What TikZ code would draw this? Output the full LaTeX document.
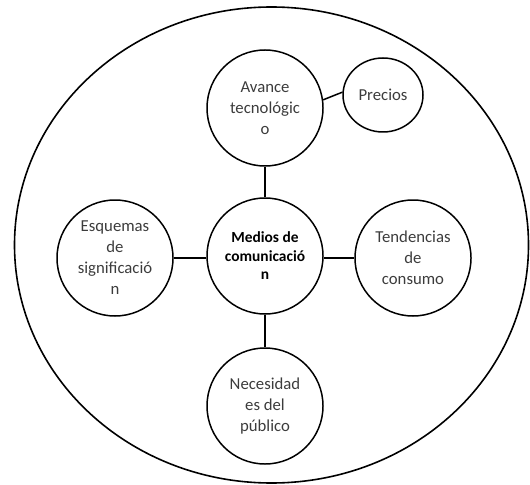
\documentclass[tikz,border=0pt]{standalone}
\usepackage{fontspec}
\setmainfont{Carlito}
\usetikzlibrary{shapes.geometric}
\definecolor{labelgray}{HTML}{3C3C3C}
\tikzset{
  topic/.style={draw=black, line width=1.5pt, circle, minimum size=116bp, inner sep=0pt,
    align=center, text=labelgray, font=\fontsize{16.8}{21}\selectfont},
  core/.style={topic, text=black, font=\bfseries\fontsize{15.5}{18.5}\selectfont},
  minor/.style={draw=black, line width=1.5pt, ellipse, minimum width=80bp, minimum height=74bp,
    inner sep=0pt, align=center, text=labelgray, font=\fontsize{16.8}{21}\selectfont},
  link/.style={draw=black, line width=1.5pt}
}
\begin{document}
\begin{tikzpicture}[x=1bp, y=-1bp]
  \useasboundingbox (0,0) rectangle (530,485);
  % outer boundary
  \draw[line width=1.6pt] (271.5,245) ellipse [x radius=257, y radius=238];
  % nodes
  \node[core]  (medios)  at (265,256) {Medios de\\comunicació\\n};
  \node[topic] (avance)  at (265,108) {Avance\\tecnológic\\o};
  \node[minor] (precios) at (383,95)  {Precios};
  \node[topic] (esquemas) at (115,258) {Esquemas\\de\\significació\\n};
  \node[topic] (tendencias) at (413,258) {Tendencias\\de\\consumo};
  \node[topic] (necesidades) at (265,406) {Necesidad\\es del\\público};
  % connectors
  \draw[link] (medios) -- (avance);
  \draw[link] (medios) -- (necesidades);
  \draw[link] (medios.west |- esquemas.east) -- (esquemas.east);
  \draw[link] (medios.east |- tendencias.west) -- (tendencias.west);
  \draw[link] (avance.8) -- (precios.176);
\end{tikzpicture}
\end{document}
